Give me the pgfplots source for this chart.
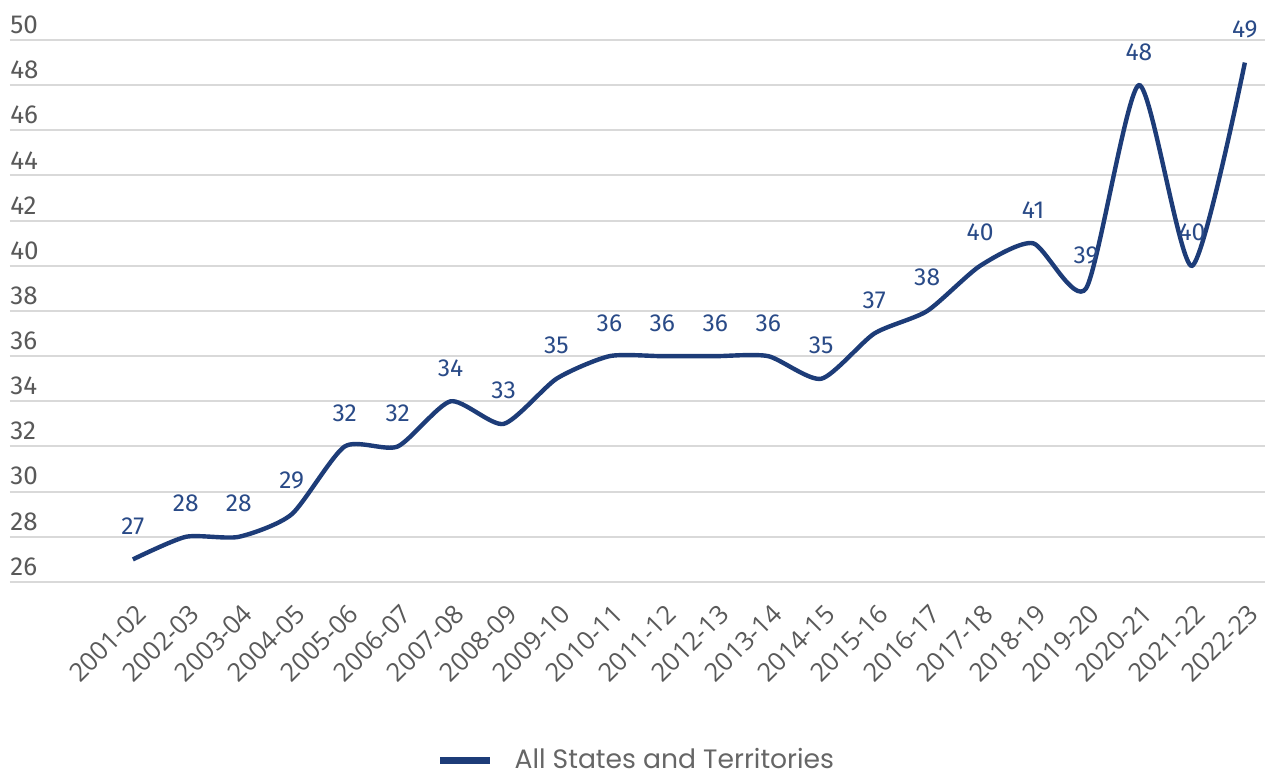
\documentclass[border=0pt]{standalone}
\usepackage{fontspec}
\setmainfont{Open Sans}
\newfontfamily\labelfont{Fira Sans}
\newfontfamily\legendfont{Poppins}
\usepackage{pgfplots}
\pgfplotsset{compat=1.18}
\usetikzlibrary{calc}
\definecolor{navy}{HTML}{1D3C78}
\definecolor{lblblue}{HTML}{294A87}
\definecolor{tickgray}{HTML}{595959}
\definecolor{leggray}{HTML}{666666}
\definecolor{gridgray}{HTML}{D9D9D9}
\begin{document}
\begin{tikzpicture}
\begin{axis}[name=ax,
  scale only axis, width=627.5pt, height=271pt,
  xmin=-2.32, xmax=21.38, ymin=26, ymax=50,
  axis line style={draw=none},
  major tick length=0pt,
  ymajorgrids, grid style={gridgray, line width=1pt},
  xtick={0,...,21},
  xticklabels={2001-02,2002-03,2003-04,2004-05,2005-06,2006-07,2007-08,2008-09,2009-10,2010-11,2011-12,2012-13,2013-14,2014-15,2015-16,2016-17,2017-18,2018-19,2019-20,2020-21,2021-22,2022-23},
  ytick={26,28,...,50},
  clip=false,
  /pgf/number format/assume math mode=true,
  yticklabel style={anchor=south west, inner sep=0pt, yshift=3pt, font=\labelfont\fontsize{13}{15}\selectfont, text=tickgray},
  xticklabel style={xshift=1pt, yshift=-10pt, rotate=45, anchor=north east, inner sep=0pt, font=\fontsize{12.8}{14}\selectfont, text=tickgray},
  legend style={at={(0.5,0)}, anchor=center, yshift=-89pt, draw=none, fill=none, font=\legendfont\fontsize{13.3}{15}\selectfont, text=leggray},
  legend cell align=left,
]
\addplot[navy, line width=2.2pt, smooth, tension=0.4,
  legend image code/.code={\draw[navy, line width=3.5pt] (0pt,0pt) -- (25pt,0pt); \path (34pt,0pt);},
  nodes near coords,
  nodes near coords style={font=\labelfont\fontsize{12.3}{14}\selectfont, text=lblblue, anchor=south, yshift=8pt}]
coordinates {
(0,27) (1,28) (2,28) (3,29) (4,32) (5,32) (6,34) (7,33) (8,35) (9,36) (10,36)
(11,36) (12,36) (13,35) (14,37) (15,38) (16,40) (17,41) (18,39) (19,48) (20,40) (21,49)
};
\legend{All States and Territories}
\end{axis}
\pgfresetboundingbox
\path[use as bounding box] ($(ax.south west)+(-5pt,-94.5pt)$) rectangle ($(ax.north east)+(0pt,20pt)$);
\end{tikzpicture}
\end{document}
